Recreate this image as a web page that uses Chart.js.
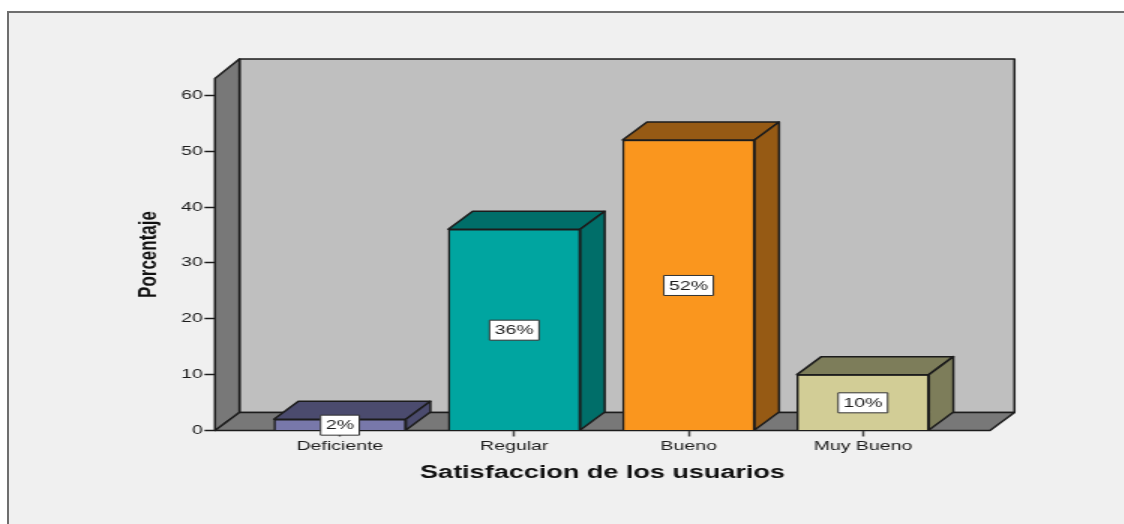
<!DOCTYPE html>
<html>
<head>
<meta charset="utf-8">
<script src="https://cdn.jsdelivr.net/npm/chart.js@4"></script>
<style>
    html, body { margin: 0; padding: 0; background: #fff; overflow: hidden; }
    #frame { position: absolute; left: 7px; top: 11px; width: 1130px; height: 530px; background: #f0f0f0; border: 2px solid #6e6e6e; }
    /* the source picture is stretched sideways, so the whole canvas gets stretched too */
    #stage { position: absolute; left: 0; top: 0; width: 750px; height: 524px; transform: scale(1.5, 1); transform-origin: 0 0; }
</style>
</head>
<body>
<div id="frame"></div>
<div id="stage"><canvas id="chart" width="750" height="524"></canvas></div>
<script>
const categories = ['Deficiente', 'Regular', 'Bueno', 'Muy Bueno'];
const percentages = [2, 36, 52, 10];
const yTickValues = [0, 10, 20, 30, 40, 50, 60];
const frontColors = ['#7878aa', '#00a5a0', '#fa961e', '#d2cd96'];
const darkColors = ['#4b4b6e', '#006e69', '#965a14', '#7d7d5a'];

const inkColor = '#1c1c1c';
const depthX = 16.3;
const depthY = 18;

function poly(ctx, points, fill) {
    ctx.beginPath();
    points.forEach((p, i) => i ? ctx.lineTo(p[0], p[1]) : ctx.moveTo(p[0], p[1]));
    ctx.closePath();
    ctx.fillStyle = fill;
    ctx.fill();
    ctx.stroke();
}

// back wall, left wall and floor of the box
const wallsPlugin = {
    id: 'walls',
    beforeDraw(chart) {
        const { ctx, chartArea: a } = chart;
        ctx.save();
        ctx.strokeStyle = inkColor;
        ctx.lineWidth = 1.5;
        ctx.lineJoin = 'round';
        poly(ctx, [[a.left + depthX, a.top - depthY - 1.5], [a.right + depthX, a.top - depthY - 1.5], [a.right + depthX, a.bottom - depthY], [a.left + depthX, a.bottom - depthY]], '#bfbfbf');
        poly(ctx, [[a.left, a.top], [a.left + depthX, a.top - depthY - 1.5], [a.left + depthX, a.bottom - depthY], [a.left, a.bottom]], '#787878');
        poly(ctx, [[a.left, a.bottom], [a.left + depthX, a.bottom - depthY], [a.right + depthX, a.bottom - depthY], [a.right, a.bottom]], '#787878');
        ctx.restore();
    }
};

// top and side faces of each bar, then the value boxes
const barFacesPlugin = {
    id: 'barFaces',
    afterDatasetsDraw(chart) {
        const { ctx } = chart;
        const bars = chart.getDatasetMeta(0).data;
        ctx.save();
        ctx.strokeStyle = inkColor;
        ctx.lineWidth = 1.5;
        ctx.lineJoin = 'round';
        bars.forEach((bar, i) => {
            const l = bar.x - bar.width / 2;
            const r = bar.x + bar.width / 2;
            poly(ctx, [[l, bar.y], [l + depthX, bar.y - depthY], [r + depthX, bar.y - depthY], [r, bar.y]], darkColors[i]);
            poly(ctx, [[r, bar.y], [r + depthX, bar.y - depthY], [r + depthX, bar.base - depthY], [r, bar.base]], darkColors[i]);
        });
        ctx.font = '13px "Liberation Sans"';
        ctx.textAlign = 'center';
        ctx.textBaseline = 'middle';
        bars.forEach((bar, i) => {
            const text = percentages[i] + '%';
            const w = ctx.measureText(text).width + 7;
            const cy = (bar.y + bar.base) / 2 + 0.5;
            ctx.fillStyle = '#ffffff';
            ctx.lineWidth = 1;
            ctx.strokeStyle = '#333333';
            ctx.fillRect(bar.x - w / 2, cy - 10, w, 20);
            ctx.strokeRect(bar.x - w / 2, cy - 10, w, 20);
            ctx.fillStyle = inkColor;
            ctx.fillText(text, bar.x, cy + 0.5);
        });
        ctx.restore();
    }
};

new Chart(document.getElementById('chart'), {
    type: 'bar',
    data: {
        datasets: [{
            data: percentages.map((v, i) => ({ x: i, y: v })),
            backgroundColor: frontColors,
            borderColor: inkColor,
            borderWidth: 1.5,
            barThickness: 88
        }]
    },
    plugins: [wallsPlugin, barFacesPlugin],
    options: {
        responsive: false,
        animation: false,
        devicePixelRatio: 1,
        layout: { padding: { top: 78.5, right: 90, left: 0, bottom: 0 } },
        plugins: { legend: { display: false }, tooltip: { enabled: false } },
        scales: {
            x: {
                type: 'linear',
                offset: false,
                min: -0.717,
                max: 3.729,
                afterBuildTicks: axis => { axis.ticks = categories.map((c, i) => ({ value: i })); },
                afterFit: axis => { axis.height = 93.5; },
                grid: { offset: false, drawOnChartArea: false, tickLength: 6, tickColor: '#444444', tickWidth: 1.5 },
                border: { display: false },
                ticks: {
                    autoSkip: false,
                    maxRotation: 0,
                    padding: 2,
                    color: inkColor,
                    font: { family: '"Liberation Sans"', size: 13 },
                    callback: value => categories[value]
                },
                title: {
                    display: true,
                    text: 'Satisfaccion de los usuarios',
                    color: '#111111',
                    font: { family: '"Liberation Sans"', size: 18, weight: 'bold' },
                    padding: { top: 0, bottom: 40 }
                }
            },
            y: {
                min: 0,
                max: 63,
                afterBuildTicks: axis => { axis.ticks = yTickValues.map(v => ({ value: v })); },
                afterFit: axis => { axis.width = 143.3; },
                grid: { drawOnChartArea: false, tickLength: 7, tickColor: inkColor, tickWidth: 1.5 },
                border: { display: false },
                ticks: {
                    padding: 1,
                    color: inkColor,
                    font: { family: '"Liberation Sans"', size: 13 }
                },
                title: {
                    display: true,
                    text: 'Porcentaje',
                    color: '#111111',
                    font: { family: '"Liberation Sans"', size: 17, weight: 'bold' },
                    padding: { top: 89, bottom: 0 }
                }
            }
        }
    }
});
</script>
</body>
</html>
